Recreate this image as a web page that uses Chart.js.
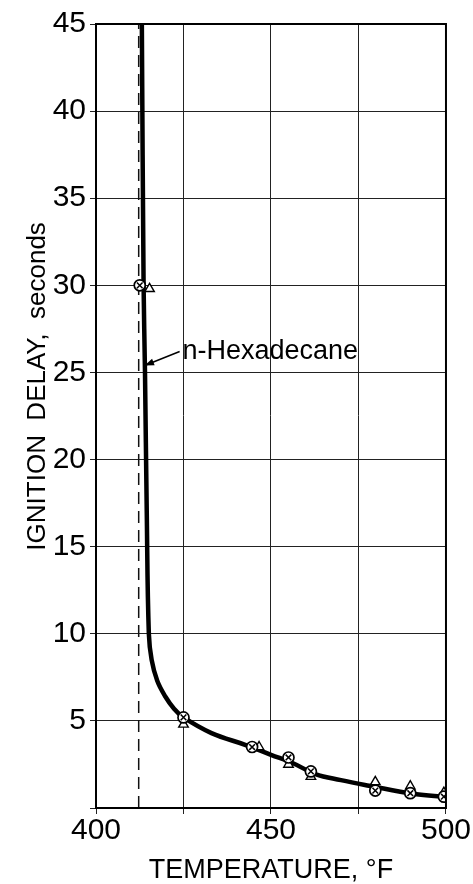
<!DOCTYPE html>
<html>
<head>
<meta charset="utf-8">
<script src="https://cdn.jsdelivr.net/npm/chart.js@4.4.1/dist/chart.umd.min.js"></script>
<style>
  html, body { margin: 0; padding: 0; background: #fff; }
  #wrap { width: 473px; height: 884px; }
</style>
</head>
<body>
<div id="wrap"><canvas id="c" width="473" height="884"></canvas></div>
<script>
// ---- data ----
const curveTemp  = [413.1, 413.6, 414.0, 414.5, 415.1, 415.9, 417.5, 419.8, 422.3, 425.0, 433.0, 443.0, 450.0, 456.0, 462.7, 470.0, 478.0, 491.0, 500.0];
const curveDelay = [45.0, 30.0, 25.0, 17.0, 10.0, 8.5, 7.3, 6.4, 5.7, 5.2, 4.3, 3.6, 3.05, 2.6, 1.95, 1.6, 1.28, 0.8, 0.63];

const circleTemp  = [412.5, 425.0, 444.6, 455.0, 461.4, 479.8, 489.8, 499.4];
const circleDelay = [30.0, 5.2, 3.5, 2.9, 2.1, 1.0, 0.85, 0.65];

const triTemp  = [415.3, 425.0, 446.6, 455.0, 461.4, 479.8, 489.8, 499.4];
const triDelay = [29.8, 4.8, 3.5, 2.5, 1.8, 1.5, 1.25, 0.88];

const limitTemp  = [412.2, 412.2];
const limitDelay = [0, 45];

const xTicks = [400, 450, 500];
const yTicks = [5, 10, 15, 20, 25, 30, 35, 40, 45];

const labelText = 'n-Hexadecane';
const xTitle = 'TEMPERATURE, °F';
const yTitle = 'IGNITION  DELAY,  seconds';

const toPts = (xs, ys) => xs.map((x, i) => ({ x: x, y: ys[i] }));

const REG = "'Liberation Sans', 'DejaVu Sans', sans-serif";

const extras = {
  id: 'extras',
  afterDraw(chart) {
    const ctx = chart.ctx;
    const a = chart.chartArea;
    const xs = chart.scales.x, ys = chart.scales.y;
    ctx.save();
    // frame
    ctx.strokeStyle = '#000';
    ctx.lineWidth = 2;
    ctx.strokeRect(a.left, a.top, a.right - a.left, a.bottom - a.top);

    // annotation text + arrow
    const tx = xs.getPixelForValue(424.7), ty = ys.getPixelForValue(26.2);
    ctx.fillStyle = '#000';
    ctx.font = '27px ' + REG;
    ctx.textAlign = 'left';
    ctx.textBaseline = 'middle';
    ctx.fillText(labelText, tx, ty);
    const x0 = xs.getPixelForValue(423.9), y0 = ys.getPixelForValue(26.2);
    const x1 = xs.getPixelForValue(413.9), y1 = ys.getPixelForValue(25.4);
    ctx.lineWidth = 1.6;
    ctx.beginPath(); ctx.moveTo(x0, y0); ctx.lineTo(x1, y1); ctx.stroke();
    const ang = Math.atan2(y1 - y0, x1 - x0);
    const L = 10, W = 0.35;
    ctx.beginPath();
    ctx.moveTo(x1, y1);
    ctx.lineTo(x1 - L * Math.cos(ang - W), y1 - L * Math.sin(ang - W));
    ctx.lineTo(x1 - L * Math.cos(ang + W), y1 - L * Math.sin(ang + W));
    ctx.closePath(); ctx.fill();

    // y-axis title
    ctx.translate(ys.left + 38, ys.getPixelForValue(24.2));
    ctx.rotate(-Math.PI / 2);
    ctx.textAlign = 'center';
    ctx.font = '26px ' + REG;
    ctx.fillText(yTitle, 0, 0);
    ctx.restore();
  }
};

new Chart(document.getElementById('c'), {
  type: 'scatter',
  data: {
    datasets: [
      { label: 'cross', data: toPts(circleTemp, circleDelay), pointStyle: 'crossRot', pointRadius: 4,
        borderColor: '#000', borderWidth: 1.5, backgroundColor: '#000', order: 0 },
      { label: 'circle', data: toPts(circleTemp, circleDelay), pointStyle: 'circle', pointRadius: 5.5,
        borderColor: '#000', borderWidth: 1.7, backgroundColor: '#fff', order: 1 },
      { label: 'triangle', data: toPts(triTemp, triDelay), pointStyle: 'triangle', pointRadius: 5.5,
        borderColor: '#000', borderWidth: 1.4, backgroundColor: '#fff', order: 2 },
      { label: 'curve', data: toPts(curveTemp, curveDelay), showLine: true, pointRadius: 0,
        borderColor: '#000', borderWidth: 4.5, tension: 0.4, order: 3 },
      { label: 'limit', data: toPts(limitTemp, limitDelay), showLine: true, pointRadius: 0,
        borderColor: '#111', borderWidth: 1.5, borderDash: [12, 7], order: 4 }
    ]
  },
  options: {
    responsive: false,
    animation: false,
    events: [],
    layout: { padding: { top: 24, right: 25, left: 0, bottom: 0 } },
    plugins: { legend: { display: false }, tooltip: { enabled: false } },
    scales: {
      x: {
        type: 'linear', min: 400, max: 500,
        ticks: {
          stepSize: 25, maxRotation: 0, autoSkip: false, color: '#000', padding: 2,
          font: { family: REG, size: 30, lineHeight: 1.0 },
          callback: v => xTicks.includes(v) ? String(v) : ''
        },
        grid: { color: '#222', lineWidth: 1, tickLength: 6 },
        border: { display: true, color: '#000', width: 2 },
        title: { display: true, text: xTitle, color: '#000', font: { family: REG, size: 27, lineHeight: 1.0 }, padding: { top: 9, bottom: 0 } }
      },
      y: {
        type: 'linear', min: 0, max: 45,
        afterFit(s) { s.width = 96; },
        ticks: {
          stepSize: 5, autoSkip: false, color: '#000', padding: 4,
          font: { family: REG, size: 30 },
          callback: v => yTicks.includes(v) ? String(v) : ''
        },
        grid: { color: '#222', lineWidth: 1, tickLength: 6 },
        border: { display: true, color: '#000', width: 2 }
      }
    }
  },
  plugins: [extras]
});
</script>
</body>
</html>
